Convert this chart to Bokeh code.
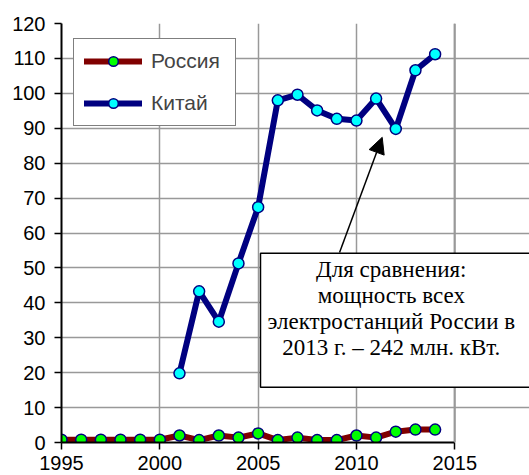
from bokeh.plotting import figure
from bokeh.models import Range1d, FixedTicker, Legend, LegendItem, Arrow, NormalHead, Label, Span
from bokeh.embed import file_html
from bokeh.resources import INLINE

# ---- data ----
russia_years = [1995, 1996, 1997, 1998, 1999, 2000, 2001, 2002, 2003, 2004,
                2005, 2006, 2007, 2008, 2009, 2010, 2011, 2012, 2013, 2014]
russia_values = [0.8, 0.8, 0.8, 0.8, 0.8, 0.8, 2.0, 0.7, 2.0, 1.4,
                 2.6, 0.7, 1.4, 0.7, 0.7, 2.0, 1.4, 3.1, 3.7, 3.7]
china_years = [2001, 2002, 2003, 2004, 2005, 2006, 2007, 2008, 2009, 2010,
               2011, 2012, 2013, 2014]
china_values = [19.8, 43.3, 34.6, 51.3, 67.4, 98.0, 99.6, 95.1, 92.7, 92.2,
                98.5, 89.8, 106.6, 111.2]
x_ticks = [1995, 2000, 2005, 2010, 2015]
y_ticks = [0, 10, 20, 30, 40, 50, 60, 70, 80, 90, 100, 110, 120]
series_names = ["Россия", "Китай"]
note_text = "Для сравнения:\nмощность всех\nэлектростанций России в\n2013 г. – 242 млн. кВт."

FONT = "Liberation Sans"
SERIF = "Liberation Serif"
X_MIN, X_MAX = 1995, 2015

p = figure(width=529, height=475,
           x_range=Range1d(X_MIN, 2018.8), y_range=Range1d(0, 120),
           output_backend="svg", toolbar_location=None,
           min_border_left=61, min_border_top=23,
           min_border_right=0, min_border_bottom=33)

p.background_fill_color = "white"
p.border_fill_color = "white"
p.outline_line_color = None
p.outline_line_alpha = 0
p.outline_line_width = 0

p.xaxis.ticker = FixedTicker(ticks=x_ticks)
p.yaxis.ticker = FixedTicker(ticks=y_ticks)
p.xaxis.bounds = (X_MIN, X_MAX)
for ax in (p.xaxis, p.yaxis):
    ax.axis_line_color = "black"
    ax.axis_line_width = 2
    ax.major_tick_line_color = "black"
    ax.major_tick_line_width = 1.5
    ax.major_tick_in = 0
    ax.major_tick_out = 7
    ax.minor_tick_line_color = None
    ax.major_label_text_font = FONT
    ax.major_label_text_font_size = "20px"
    ax.major_label_text_color = "black"
p.xaxis.major_label_standoff = 6
p.yaxis.major_label_standoff = 9

p.xgrid.ticker = FixedTicker(ticks=x_ticks)
p.ygrid.ticker = FixedTicker(ticks=y_ticks)
p.ygrid.bounds = (X_MIN, X_MAX)
p.grid.grid_line_color = "#999999"
p.grid.grid_line_width = 1.5
# right border of the plot area
p.add_layout(Span(location=X_MAX, dimension="height", line_color="#999999", line_width=2))

r_line = p.line(russia_years, russia_values, line_color="#800000", line_width=6,
                line_join="round", line_cap="round")
c_line = p.line(china_years, china_values, line_color="#000080", line_width=6,
                line_join="round", line_cap="round")
r_pts = p.scatter(russia_years, russia_values, size=11, fill_color="#00ff00",
                  line_color="#000080", line_width=1.5)
c_pts = p.scatter(china_years, china_values, size=11, fill_color="#00ffff",
                  line_color="#000080", line_width=1.5)

legend = Legend(items=[LegendItem(label=series_names[0], renderers=[r_line, r_pts]),
                       LegendItem(label=series_names[1], renderers=[c_line, c_pts])],
                location=(12, 316), orientation="vertical",
                label_text_font=FONT, label_text_font_size="21px",
                glyph_width=58, glyph_height=24, label_height=24, label_width=74,
                label_standoff=9, spacing=18, padding=10, margin=0,
                border_line_color="black", border_line_width=1.5,
                background_fill_color="white", background_fill_alpha=1)
p.add_layout(legend, "center")

arrow = Arrow(end=NormalHead(size=16, fill_color="black", line_color="black"),
              x_start=2009.14, y_start=54.4, x_end=2011.31, y_end=87.4,
              line_color="black", line_width=1.5)
p.add_layout(arrow)

note = Label(x=2005.12, y=54.2, text=note_text, anchor="top_left",
             text_align="center", text_font=SERIF,
             text_font_size="23px", text_line_height=1.04, text_color="black",
             padding=dict(left=7, right=40, top=4, bottom=27),
             background_fill_color="white", background_fill_alpha=1,
             border_line_color="black", border_line_width=1.5)
p.add_layout(note)

open("out.html", "w").write(file_html(p, INLINE))
